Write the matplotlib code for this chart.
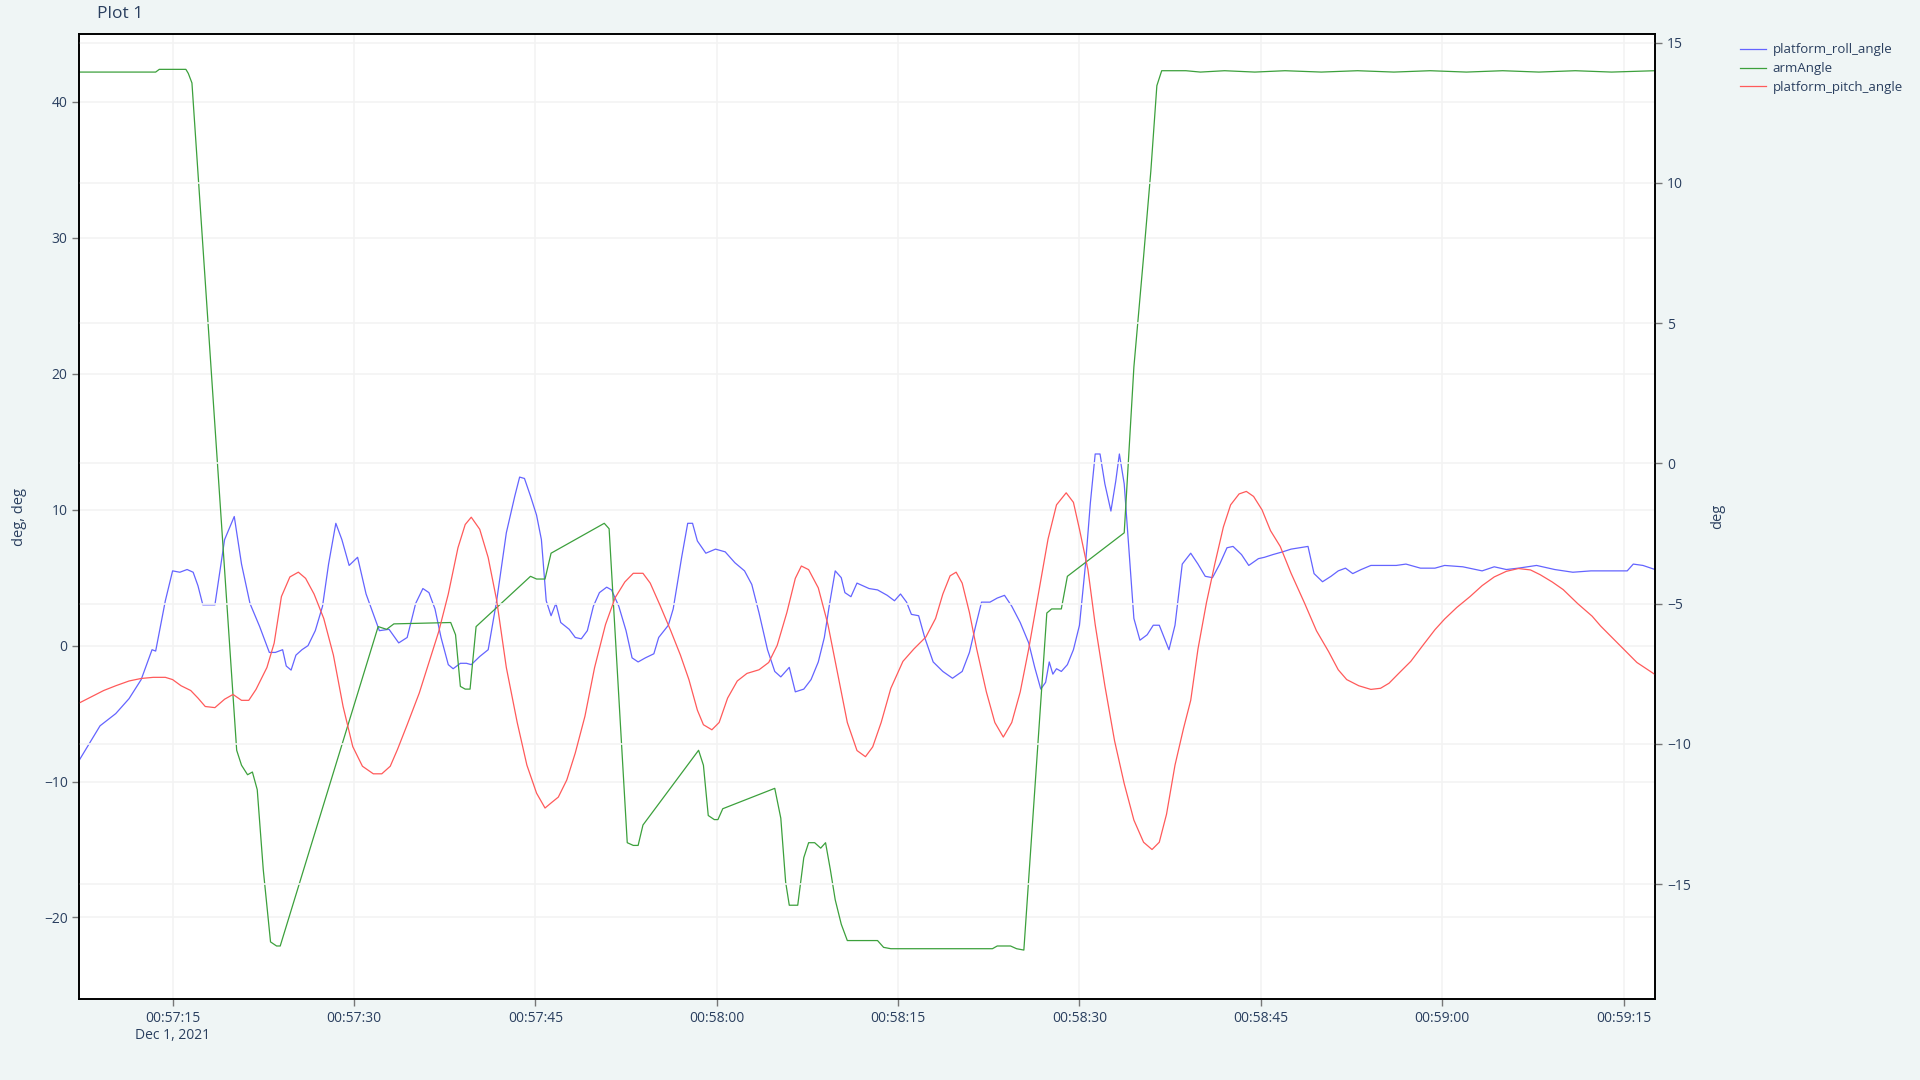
import numpy as np
import pandas as pd
import matplotlib
matplotlib.use('Agg')
import matplotlib.pyplot as plt

# seconds after 00:57:00 on Dec 1, 2021
roll_t = [7.3, 9.0, 10.3, 11.4, 12.4, 13.3, 13.6, 14.4, 15.0, 15.6, 16.2, 16.7, 17.1, 17.5, 18.5, 19.3, 20.1,
          20.7, 21.4, 22.2, 23.0, 23.5, 24.1, 24.4, 24.8, 25.2, 25.7, 26.2, 26.8, 27.4, 27.9, 28.5, 29.0, 29.6,
          30.3, 31.0, 32.1, 32.9, 33.7, 34.4, 35.1, 35.7, 36.2, 36.7, 37.2, 37.8, 38.2, 38.8, 39.3, 39.7, 40.4,
          41.1, 41.8, 42.6, 43.3, 43.7, 44.1, 44.6, 45.1, 45.5, 45.9, 46.3, 46.7, 47.1, 47.8, 48.3, 48.8, 49.3,
          49.8, 50.3, 50.9, 51.3, 51.9, 52.5, 53.0, 53.5, 54.1, 54.8, 55.2, 56.0, 56.4, 57.1, 57.6, 58.0, 58.4,
          59.1, 59.9, 60.7, 61.5, 62.3, 62.9, 63.5, 64.2, 64.8, 65.3, 66.0, 66.5, 67.2, 67.8, 68.4, 68.9, 69.3,
          69.8, 70.3, 70.6, 71.1, 71.6, 72.1, 72.6, 73.3, 74.1, 74.7, 75.2, 75.7, 76.1, 76.7, 77.2, 77.9, 78.7,
          79.5, 80.3, 80.9, 81.4, 81.9, 82.6, 83.2, 83.8, 84.4, 85.1, 85.8, 86.3, 86.8, 87.2, 87.5, 87.8, 88.1,
          88.5, 89.0, 89.5, 90.0, 90.5, 90.9, 91.3, 91.7, 92.1, 92.6, 93.0, 93.3, 93.7, 94.1, 94.5, 95.0, 95.6,
          96.1, 96.6, 97.0, 97.4, 97.9, 98.5, 99.2, 99.8, 100.4, 101.0, 101.6, 102.2, 102.7, 103.4, 104.0, 104.8,
          105.3, 106.0, 106.8, 107.5, 108.2, 108.9, 109.4, 110.1, 110.8, 111.4, 112.0, 112.6, 113.3, 114.1,
          115.2, 116.2, 117.0, 118.2, 119.4, 120.2, 121.7, 123.3, 124.3, 125.3, 126.3, 127.8, 129.3, 130.8,
          132.3, 133.8, 135.3, 135.8, 136.6, 137.6]
roll_v = [-8.4, -5.9, -5.0, -3.9, -2.5, -0.3, -0.4, 3.3, 5.5, 5.4, 5.6, 5.4, 4.4, 3.0, 3.0, 7.8, 9.5,
          6.0, 3.1, 1.4, -0.5, -0.5, -0.3, -1.5, -1.8, -0.7, -0.3, 0.0, 1.1, 2.9, 6.0, 9.0, 7.8, 5.9,
          6.5, 3.8, 1.1, 1.2, 0.2, 0.6, 3.1, 4.2, 3.9, 2.7, 0.6, -1.4, -1.7, -1.3, -1.3, -1.4, -0.8,
          -0.3, 3.3, 8.3, 11.0, 12.4, 12.3, 11.0, 9.6, 7.8, 3.3, 2.2, 3.1, 1.7, 1.2, 0.6, 0.5, 1.1,
          2.9, 3.9, 4.3, 4.1, 2.9, 1.1, -0.9, -1.2, -0.9, -0.6, 0.6, 1.5, 2.7, 6.5, 9.0, 9.0, 7.7,
          6.8, 7.1, 6.9, 6.1, 5.5, 4.5, 2.4, -0.3, -1.9, -2.3, -1.6, -3.4, -3.2, -2.5, -1.2, 0.6, 2.9,
          5.5, 5.0, 3.9, 3.6, 4.6, 4.4, 4.2, 4.1, 3.7, 3.3, 3.8, 3.2, 2.3, 2.2, 0.6, -1.2, -1.9,
          -2.4, -1.9, -0.5, 1.4, 3.2, 3.2, 3.5, 3.7, 2.9, 1.7, 0.2, -1.6, -3.2, -2.7, -1.2, -2.1, -1.7,
          -1.9, -1.4, -0.3, 1.5, 6.0, 10.5, 14.1, 14.1, 11.9, 9.9, 12.1, 14.1, 11.9, 6.9, 2.0, 0.4, 0.8,
          1.5, 1.5, 0.6, -0.3, 1.5, 6.0, 6.8, 6.0, 5.1, 5.0, 6.0, 7.2, 7.3, 6.7, 5.9, 6.4,
          6.5, 6.7, 6.9, 7.1, 7.2, 7.3, 5.3, 4.7, 5.1, 5.5, 5.7, 5.3, 5.6, 5.9,
          5.9, 5.9, 6.0, 5.7, 5.7, 5.9, 5.8, 5.5, 5.8, 5.6, 5.7, 5.9, 5.6, 5.4,
          5.5, 5.5, 5.5, 6.0, 5.9, 5.6]

arm_t = [7.3, 10.0, 13.6, 13.9, 16.1, 16.3, 16.6, 20.3, 20.7, 21.2, 21.6, 22.0, 22.5, 23.1, 23.6, 23.9,
         32.0, 32.7, 33.3, 38.0, 38.4, 38.8, 39.2, 39.6, 40.1, 44.6, 45.1, 45.8, 46.3, 50.7, 51.1, 52.6,
         53.1, 53.5, 53.9, 58.5, 58.9, 59.3, 59.8, 60.1, 60.5, 64.8, 65.3, 65.7, 66.0, 66.7, 67.2, 67.6,
         68.1, 68.6, 69.0, 69.4, 69.8, 70.3, 70.8, 73.3, 73.8, 74.4, 77.7, 82.8, 83.2, 84.3, 84.8, 85.4,
         87.3, 87.7, 88.5, 89.0, 93.7, 94.5, 95.3, 95.9, 96.4, 96.8, 98.8, 100.0, 102.0, 104.5, 107.0,
         110.0, 113.0, 116.0, 119.0, 122.0, 125.0, 128.0, 131.0, 134.0, 137.6]
arm_v = [42.2, 42.2, 42.2, 42.4, 42.4, 42.1, 41.4, -7.7, -8.8, -9.5, -9.3, -10.6, -16.5, -21.8, -22.1, -22.1,
         1.4, 1.2, 1.6, 1.7, 0.8, -3.0, -3.2, -3.2, 1.4, 5.1, 4.9, 4.9, 6.8, 9.0, 8.6, -14.5,
         -14.7, -14.7, -13.2, -7.7, -8.8, -12.5, -12.8, -12.8, -12.0, -10.5, -12.7, -17.4, -19.1, -19.1, -15.6, -14.5,
         -14.5, -14.9, -14.5, -16.5, -18.7, -20.5, -21.7, -21.7, -22.2, -22.3, -22.3, -22.3, -22.1, -22.1, -22.3, -22.4,
         2.4, 2.7, 2.7, 5.1, 8.3, 20.5, 28.6, 34.9, 41.2, 42.3, 42.3, 42.2, 42.3, 42.2, 42.3,
         42.2, 42.3, 42.2, 42.3, 42.2, 42.3, 42.2, 42.3, 42.2, 42.3]

pitch_t = [7.3, 8.3, 9.3, 10.3, 11.4, 12.4, 13.4, 14.4, 15.0, 15.7, 16.5, 17.1, 17.7, 18.5, 19.3, 20.0, 20.7,
           21.3, 21.9, 22.8, 23.4, 24.0, 24.7, 25.4, 26.0, 26.7, 27.5, 28.3, 29.1, 29.9, 30.7, 31.6, 32.3,
           33.0, 33.6, 34.4, 35.4, 36.2, 37.0, 37.8, 38.6, 39.2, 39.7, 40.4, 41.1, 41.8, 42.6, 43.5, 44.3,
           45.1, 45.8, 46.3, 46.9, 47.6, 48.3, 49.1, 49.9, 50.8, 51.6, 52.4, 53.1, 53.9, 54.5, 55.3, 56.2,
           57.0, 57.7, 58.4, 58.9, 59.6, 60.2, 60.9, 61.7, 62.5, 63.5, 64.3, 65.0, 65.8, 66.5, 67.0, 67.6,
           68.4, 69.2, 70.0, 70.8, 71.6, 72.3, 72.9, 73.6, 74.4, 75.4, 76.3, 77.3, 78.1, 78.7, 79.3, 79.8,
           80.3, 80.9, 81.5, 82.3, 83.0, 83.7, 84.4, 85.1, 85.8, 86.6, 87.4, 88.1, 88.9, 89.5, 90.0, 90.7,
           91.3, 92.1, 92.9, 93.7, 94.5, 95.3, 96.0, 96.6, 97.2, 97.9, 98.6, 99.2, 99.8, 100.5, 101.2, 101.9,
           102.5, 103.2, 103.8, 104.4, 105.1, 105.8, 106.6, 107.5, 108.6, 109.6, 110.6, 111.4, 112.1, 113.1,
           114.1, 114.9, 115.6, 116.4, 117.4, 118.4, 119.4, 120.2, 121.2, 122.3, 123.3, 124.3, 125.3, 126.3,
           127.3, 128.1, 129.1, 130.0, 131.2, 132.4, 133.1, 134.6, 136.1, 137.6]
pitch_v = [-8.54, -8.32, -8.10, -7.93, -7.76, -7.67, -7.63, -7.63, -7.71, -7.93, -8.10, -8.37, -8.67, -8.71, -8.41, -8.24, -8.45,
           -8.45, -8.06, -7.28, -6.41, -4.75, -4.05, -3.88, -4.10, -4.66, -5.53, -6.84, -8.67, -10.1, -10.8, -11.07, -11.07,
           -10.8, -10.2, -9.32, -8.19, -7.10, -6.01, -4.66, -3.01, -2.18, -1.92, -2.35, -3.36, -4.88, -7.28, -9.24, -10.76,
           -11.76, -12.29, -12.11, -11.9, -11.29, -10.33, -9.02, -7.28, -5.75, -4.79, -4.23, -3.92, -3.92, -4.27, -5.05, -5.97,
           -6.84, -7.71, -8.80, -9.32, -9.5, -9.24, -8.37, -7.76, -7.49, -7.36, -7.10, -6.49, -5.32, -4.10, -3.66, -3.79,
           -4.44, -5.75, -7.49, -9.24, -10.24, -10.46, -10.11, -9.24, -8.02, -7.06, -6.62, -6.19, -5.53, -4.66, -4.01, -3.88,
           -4.27, -5.32, -6.62, -8.15, -9.24, -9.76, -9.24, -8.15, -6.62, -4.66, -2.70, -1.48, -1.05, -1.39, -2.35, -3.79,
           -5.75, -7.93, -9.89, -11.42, -12.72, -13.51, -13.77, -13.51, -12.51, -10.76, -9.46, -8.45, -6.62, -4.97, -3.57, -2.27,
           -1.48, -1.09, -1.00, -1.18, -1.66, -2.40, -2.96, -3.92, -4.97, -5.97, -6.71, -7.36, -7.71, -7.93,
           -8.06, -8.02, -7.84, -7.49, -7.06, -6.49, -5.93, -5.55, -5.14, -4.75, -4.36, -4.05, -3.85, -3.75,
           -3.8, -3.97, -4.23, -4.5, -5.0, -5.45, -5.8, -6.45, -7.1, -7.53]

xtick_s = [15, 30, 45, 60, 75, 90, 105, 120, 135]
xtick_labels = ['00:57:15\nDec 1, 2021', '00:57:30', '00:57:45', '00:58:00', '00:58:15',
                '00:58:30', '00:58:45', '00:59:00', '00:59:15']
left_ticks = [-20, -10, 0, 10, 20, 30, 40]
right_ticks = [-15, -10, -5, 0, 5, 10, 15]

base = pd.Timestamp('2021-12-01 00:57:00')
def to_time(sec):
    return base + pd.to_timedelta(np.array(sec), unit='s')

plt.rcParams['font.family'] = ['Open Sans', 'DejaVu Sans']
txt = '#2a3f5f'
bg = '#eff5f5'
grid = '#f3f3f3'

fig = plt.figure(figsize=(19.2, 10.8), dpi=100, facecolor=bg)
ax = fig.add_axes([0.0414, 0.075, 0.8206, 0.8935])
ax2 = ax.twinx()

c_roll = '#6464ff'
c_arm = '#3ca03c'
c_pitch = '#ff5a5a'

l1, = ax.plot(to_time(roll_t), roll_v, color=c_roll, lw=0.9)
l2, = ax.plot(to_time(arm_t), arm_v, color=c_arm, lw=0.9)
l3, = ax2.plot(to_time(pitch_t), pitch_v, color=c_pitch, lw=0.9)

ax.set_xlim(to_time([7.3])[0], to_time([137.6])[0])
ax.set_ylim(-26.0, 45.0)
ax2.set_ylim(-19.1, 15.31)

ax.set_xticks(to_time(xtick_s))
ax.set_xticklabels(xtick_labels)
ax.set_yticks(left_ticks)
ax.set_yticklabels([str(v).replace('-', '\u2212') for v in left_ticks])
ax2.set_yticks(right_ticks)
ax2.set_yticklabels([str(v).replace('-', '\u2212') for v in right_ticks])

for a in (ax, ax2):
    a.tick_params(axis='both', colors='#777777', labelcolor=txt, labelsize=10, length=5, width=1)
    a.grid(True, color=grid, lw=1.2)
    a.set_axisbelow(True)
    for s in a.spines.values():
        s.set_color('black')
        s.set_linewidth(1.2)
ax2.grid(False, axis='x')
ax.set_facecolor('white')
ax2.patch.set_visible(False)
ax.set_zorder(1)
ax2.set_zorder(2)

ax.set_ylabel('deg, deg', color=txt, fontsize=10.5, labelpad=12)
ax2.set_ylabel('deg', color=txt, fontsize=10.5, labelpad=14, rotation=90)

fig.text(0.0505, 0.994, 'Plot 1', color=txt, fontsize=12.5, va='top', ha='left')

fig.legend([l1, l2, l3], ['platform_roll_angle', 'armAngle', 'platform_pitch_angle'],
           loc='upper left', bbox_to_anchor=(0.9, 0.971), frameon=False, fontsize=9.5,
           labelcolor=txt, handlelength=2.0, handletextpad=0.5, labelspacing=0.45)

fig.savefig('out.png', dpi=100, facecolor=bg)
